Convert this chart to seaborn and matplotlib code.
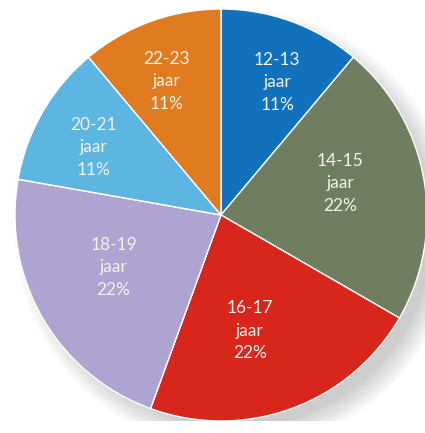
import numpy as np
import matplotlib
matplotlib.use("Agg")
import matplotlib.pyplot as plt
import seaborn as sns
from matplotlib.patches import Ellipse

categories = ["12-13", "14-15", "16-17", "18-19", "20-21", "22-23"]
values = [1, 2, 2, 2, 1, 1]
pct_labels = ["11%", "22%", "22%", "22%", "11%", "11%"]
colors = ["#1271bd", "#6f7d60", "#d8261d", "#aea3d1", "#5db6e2", "#e07b1f"]

sns.set_theme(style="white")
plt.rcParams['font.family'] = ['Lato', 'DejaVu Sans']

W, H = 425, 433
fig = plt.figure(figsize=(W / 100, H / 100), dpi=100)
fig.patch.set_facecolor("white")
cx, cy, R = 221, 215, 206
ax = fig.add_axes([(cx - R) / W, (H - cy - R) / H, 2 * R / W, 2 * R / H])

# soft shadow under the pie, towards the bottom right
for i in range(10):
    e = Ellipse((0.07, -0.07), 1.92 + 0.025 * i, 1.92 + 0.025 * i, color="black",
                alpha=0.018, lw=0, zorder=0)
    ax.add_patch(e)

wedges, _ = ax.pie(values, colors=colors, startangle=90, counterclock=False,
                   radius=1.0, wedgeprops=dict(edgecolor="white", linewidth=1.0, zorder=2))
ax.set_xlim(-1, 1)
ax.set_ylim(-1, 1)
ax.set_aspect("equal")
ax.axis("off")

dists = [0.70, 0.60, 0.58, 0.58, 0.70, 0.70]
shifts = [-3, 5, -6, -4, 2, 2]
for w, cat, pl, d, s in zip(wedges, categories, pct_labels, dists, shifts):
    ang = np.deg2rad((w.theta1 + w.theta2) / 2 + s)
    ax.text(d * np.cos(ang), d * np.sin(ang), f"{cat}\njaar\n{pl}", ha="center",
            va="center", color="#f4f2ea", fontsize=12.5, linespacing=1.5, zorder=3)

fig.savefig("out.png", dpi=100)
